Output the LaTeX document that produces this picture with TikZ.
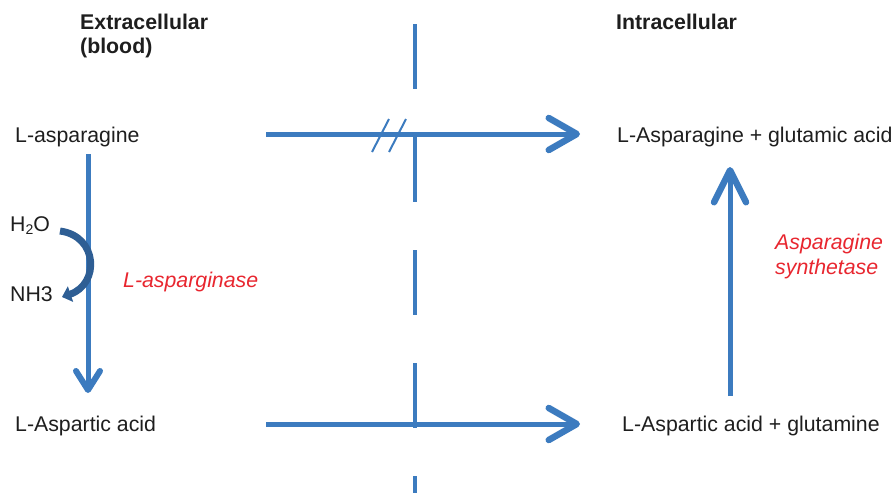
\documentclass[tikz,border=0pt]{standalone}
\usepackage{fontspec}
\setmainfont{Liberation Sans}
\usetikzlibrary{arrows.meta}
\definecolor{lineblue}{RGB}{60,123,191}
\definecolor{darkblue}{RGB}{46,94,148}
\definecolor{enzred}{RGB}{232,38,47}
\definecolor{txt}{RGB}{30,30,30}
\tikzset{
  lbl/.style={anchor=base west, inner sep=0pt, text=txt, font=\fontsize{21.3}{24.5}\selectfont},
  hdr/.style={lbl, font=\fontsize{21.3}{24.5}\selectfont\bfseries, align=left},
  enz/.style={lbl, text=enzred, font=\fontsize{21.3}{24.5}\selectfont\itshape, align=left},
  flow/.style={draw=lineblue, line width=5pt},
  bigtip/.style={-{Straight Barb[length=28pt,width=32pt,round,line width=6.5pt]}},
  midtip/.style={-{Straight Barb[length=32pt,width=32pt,round,line width=6.5pt]}},
  smalltip/.style={-{Straight Barb[length=19pt,width=24pt,round,line width=6pt]}},
  membrane/.style={draw=lineblue, line width=4pt, dash pattern=on 65pt off 48pt},
  slash/.style={draw=lineblue, line width=2pt},
}
\begin{document}
\begin{tikzpicture}[x=1pt,y=-1pt]
\useasboundingbox (0,0) rectangle (896,493);
% headers
\node[hdr] (extra) at (80,53.5) {Extracellular\\(blood)};
\node[hdr] (intra) at (616,29) {Intracellular};
% labels
\node[lbl] (asn) at (15,142) {L-asparagine};
\node[lbl] (asnglu) at (617,142) {L-Asparagine + glutamic acid};
\node[lbl] (asp) at (15,431) {L-Aspartic acid};
\node[lbl] (aspgln) at (622,431) {L-Aspartic acid + glutamine};
\node[lbl] (h2o) at (10,231) {H\raisebox{-0.3ex}{\fontsize{14}{14}\selectfont 2}O};
\node[lbl] (nh3) at (10,301) {NH3};
\node[enz] (asnase) at (123,287) {L-asparginase};
\node[enz] (asnsyn) at (775,274) {Asparagine\\synthetase};
% membrane
\coordinate (memtop) at (415,24);
\coordinate (membot) at (415,493);
\draw[membrane] (memtop) -- (membot);
% connector end points
\coordinate (t1) at (266,134);
\coordinate (t2) at (580,134);
\coordinate (b1) at (266,424);
\coordinate (b2) at (580,424);
\coordinate (l1) at (88,154);
\coordinate (l2) at (88,393);
\coordinate (r1) at (730,396);
\coordinate (r2) at (730,167);
\draw[flow, bigtip] (t1) -- (t2);
\draw[flow, bigtip] (b1) -- (b2);
\draw[flow, smalltip] (l1) -- (l2);
\draw[flow, midtip] (r1) -- (r2);
% slashes
\coordinate (s1a) at (372,152); \coordinate (s1b) at (389,119);
\coordinate (s2a) at (389,152); \coordinate (s2b) at (406,119);
\draw[slash] (s1a) -- (s1b);
\draw[slash] (s2a) -- (s2b);
% curved arrow
\coordinate (c1) at (60,231);
\coordinate (c2) at (62,297);
\draw[draw=darkblue, line width=7pt, -{Triangle[length=9pt,width=16pt]}]
  (c1) .. controls (98,236) and (100,284) .. (c2);
\end{tikzpicture}
\end{document}
